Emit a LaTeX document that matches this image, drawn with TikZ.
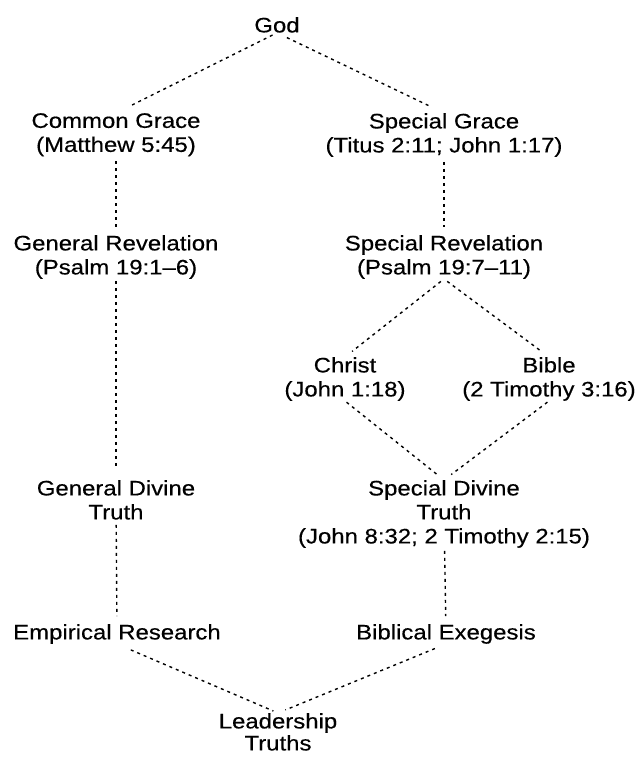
\documentclass[tikz,border=0pt]{standalone}
\usepackage{fontspec}
\setmainfont{Liberation Sans}[FakeStretch=1.14, FakeBold=0.4]
\begin{document}
\begin{tikzpicture}[x=1pt, y=-1pt,
  lbl/.style={align=center, anchor=north, inner sep=0pt, font=\fontsize{21}{24}\selectfont},
  conn/.style={line width=1.4pt, dash pattern=on 3pt off 4pt}]
  \useasboundingbox (0,0) rectangle (635,758);
  \node[lbl] (god) at (277,17) {God};
  \node[lbl] (cgrace) at (116,113) {Common Grace\\(Matthew 5:45)};
  \node[lbl] (sgrace) at (444,113) {Special Grace\\(Titus 2:11; John 1:17)};
  \node[lbl] (grev) at (116,235) {General Revelation\\(Psalm 19:1--6)};
  \node[lbl] (srev) at (444,235) {Special Revelation\\(Psalm 19:7--11)};
  \node[lbl] (christ) at (345,357) {Christ\\(John 1:18)};
  \node[lbl] (bible) at (549,357) {Bible\\(2 Timothy 3:16)};
  \node[lbl] (gtruth) at (116,480) {General Divine\\Truth};
  \node[lbl] (struth) at (444,480) {Special Divine\\Truth\\(John 8:32; 2 Timothy 2:15)};
  \node[lbl] (empir) at (117,624) {Empirical Research};
  \node[lbl] (exeg) at (446,624) {Biblical Exegesis};
  \node[lbl, font=\fontsize{21}{22}\selectfont] (lead) at (278,713) {Leadership\\Truths};
  \draw[conn, shorten <=5pt, shorten >=18pt] (god.south) -- (cgrace.north);
  \draw[conn, shorten <=11pt, shorten >=16pt] (god.south) -- (sgrace.north);
  \draw[conn, shorten <=5pt, shorten >=8pt] (cgrace) -- (grev);
  \draw[conn, shorten <=5pt, shorten >=8pt] (sgrace) -- (srev);
  \draw[conn, shorten <=2pt, shorten >=11pt] (grev) -- (gtruth);
  \draw[conn, shorten <=4pt, shorten >=9pt] (srev.south) -- (christ.north);
  \draw[conn, shorten <=4pt, shorten >=9pt] (srev.south) -- (bible.north);
  \draw[conn, shorten <=2pt, shorten >=9pt] (christ.south) -- (struth.north);
  \draw[conn, shorten <=2pt, shorten >=9pt] (bible.south) -- (struth.north);
  \draw[conn, shorten <=5pt, shorten >=8pt] (gtruth) -- (empir);
  \draw[conn, shorten <=3pt, shorten >=8pt] (struth) -- (exeg);
  \draw[conn, shorten <=15pt, shorten >=5pt] (empir.south) -- (lead.north);
  \draw[conn, shorten <=12pt, shorten >=8pt] (exeg.south) -- (lead.north);
\end{tikzpicture}
\end{document}
